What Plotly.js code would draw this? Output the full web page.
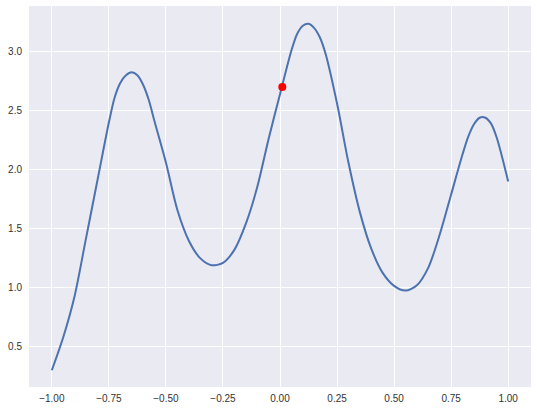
<!DOCTYPE html>
<html>
<head>
<meta charset="utf-8">
<script src="https://cdn.plot.ly/plotly-3.0.1.min.js"></script>
<style>html,body{margin:0;padding:0;background:#fff;}#chart{width:537px;height:411px;}</style>
</head>
<body>
<div id="chart"></div>
<script>
const curveX = [-1.00, -0.95, -0.90, -0.85, -0.80, -0.75, -0.725, -0.70, -0.675, -0.65, -0.625, -0.60, -0.575, -0.55, -0.50, -0.45, -0.40, -0.35, -0.30, -0.25, -0.20, -0.15, -0.10, -0.05, 0.00, 0.05, 0.075, 0.10, 0.125, 0.15, 0.175, 0.20, 0.25, 0.30, 0.35, 0.40, 0.45, 0.50, 0.55, 0.60, 0.65, 0.70, 0.75, 0.80, 0.825, 0.85, 0.875, 0.90, 0.925, 0.95, 1.00];
const curveY = [0.30, 0.58, 0.93, 1.42, 1.91, 2.40, 2.61, 2.735, 2.80, 2.825, 2.80, 2.72, 2.59, 2.41, 2.06, 1.66, 1.40, 1.25, 1.19, 1.21, 1.32, 1.54, 1.85, 2.26, 2.64, 3.01, 3.15, 3.22, 3.236, 3.20, 3.12, 2.98, 2.56, 2.06, 1.64, 1.33, 1.125, 1.015, 0.975, 1.02, 1.17, 1.45, 1.79, 2.13, 2.28, 2.385, 2.44, 2.44, 2.39, 2.27, 1.90];
const pointX = [0.0101];
const pointY = [2.70];
const xTicks = [-1.00, -0.75, -0.50, -0.25, 0.00, 0.25, 0.50, 0.75, 1.00];
const yTicks = [0.5, 1.0, 1.5, 2.0, 2.5, 3.0];

const traces = [
  {x: curveX, y: curveY, type: 'scatter', mode: 'lines',
   line: {color: '#4C72B0', width: 2, shape: 'spline', smoothing: 0.8}, hoverinfo: 'skip'},
  {x: pointX, y: pointY, type: 'scatter', mode: 'markers',
   marker: {color: 'red', size: 8}, hoverinfo: 'skip'}
];
const font = {family: 'Liberation Sans, Arial, sans-serif', size: 10, color: '#333333'};
const layout = {
  width: 537, height: 411,
  margin: {l: 29, r: 6, t: 6, b: 24, pad: 0},
  paper_bgcolor: '#ffffff', plot_bgcolor: '#EAEAF2',
  showlegend: false, font: font,
  xaxis: {range: [-1.1, 1.1], tickvals: xTicks, tickformat: '.2f', showgrid: true,
          gridcolor: '#ffffff', gridwidth: 1, zeroline: false, showline: false,
          ticks: '', ticklabelstandoff: 4, tickfont: font},
  yaxis: {range: [0.158, 3.387], tickvals: yTicks, tickformat: '.1f', showgrid: true,
          gridcolor: '#ffffff', gridwidth: 1, zeroline: false, showline: false,
          ticks: '', ticklabelstandoff: 6, tickfont: font}
};
Plotly.newPlot('chart', traces, layout, {displayModeBar: false, staticPlot: true});
</script>
</body>
</html>
